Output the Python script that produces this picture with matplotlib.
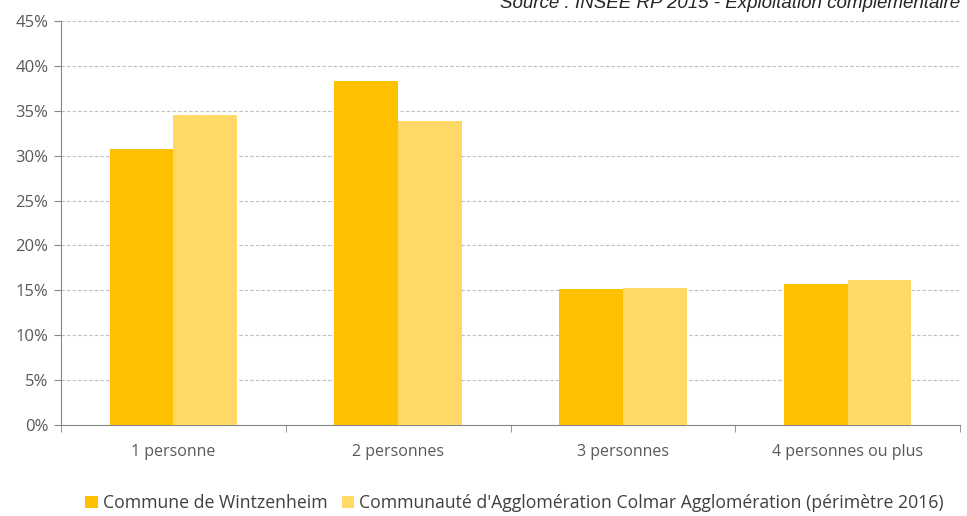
import numpy as np
import matplotlib.pyplot as plt

categories = ['1 personne', '2 personnes', '3 personnes', '4 personnes ou plus']
wintzenheim = [30.7, 38.3, 15.1, 15.7]
colmar_agglo = [34.5, 33.9, 15.3, 16.1]
series_names = ['Commune de Wintzenheim',
                "Communauté d'Agglomération Colmar Agglomération (périmètre 2016)"]
source = 'Source : INSEE RP 2015 - Exploitation complémentaire'

W, H = 967, 516
fig = plt.figure(figsize=(W / 100, H / 100), dpi=100)
ax = fig.add_axes([61 / W, (H - 425) / H, (960 - 61) / W, (425 - 21) / H])

x = np.arange(len(categories))
bw = 0.284
ax.bar(x - bw / 2, wintzenheim, bw, color='#FFC000', label=series_names[0], zorder=3)
ax.bar(x + bw / 2, colmar_agglo, bw, color='#FFD966', label=series_names[1], zorder=3)

ax.set_xlim(-0.5, len(categories) - 0.5)
ax.set_ylim(0, 45)
ax.set_yticks(np.arange(0, 46, 5))
ax.set_yticklabels([f'{v}%' for v in range(0, 46, 5)], fontsize=12, color='#595959',
                   family='Open Sans')
ax.set_xticks(x)
ax.set_xticklabels(categories, fontsize=11.5, color='#595959', family='Open Sans')
ax.set_xticks(np.arange(-0.5, len(categories)), minor=True)
ax.tick_params(axis='x', which='major', length=0, pad=14)
ax.tick_params(axis='x', which='minor', length=5, color='#868686')
ax.tick_params(axis='y', length=5, color='#868686', pad=4)

ax.yaxis.grid(True, linestyle=(0, (3, 2)), color='#BFBFBF', linewidth=0.8, zorder=0)
for s in ['top', 'right']:
    ax.spines[s].set_visible(False)
for s in ['left', 'bottom']:
    ax.spines[s].set_color('#868686')

fig.text(960 / W, 1 - 3 / H, source, ha='right', va='center', fontsize=13.5,
         style='italic', color='#262626', family='Liberation Sans')

fig.legend(loc='center', bbox_to_anchor=(0.532, 1 - 503 / H), ncol=2, frameon=False,
           handlelength=0.7, handleheight=0.7, handletextpad=0.3,
           columnspacing=0.8, labelcolor='#404040', prop={'family': 'Open Sans', 'size': 12.7})

fig.savefig('out.png', dpi=100)
